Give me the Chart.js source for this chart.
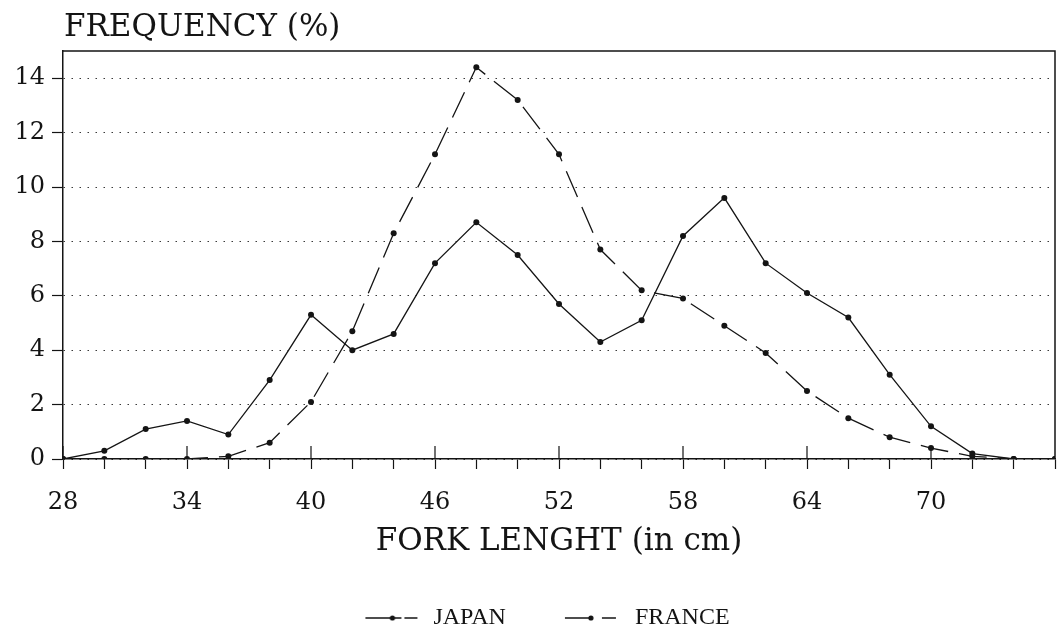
<!DOCTYPE html>
<html>
<head>
<meta charset="utf-8">
<script src="https://cdn.jsdelivr.net/npm/chart.js@4.4.1/dist/chart.umd.min.js"></script>
<style>
  html, body { margin: 0; padding: 0; background: #ffffff; }
  #wrap { width: 1059px; height: 632px; }
  canvas { display: block; }
</style>
</head>
<body>
<div id="wrap"><canvas id="chart" width="1059" height="632" style="width:1059px;height:632px"></canvas></div>
<script>
// Fork length classes (cm) and frequency (%) per fleet
const forkLength = [28, 30, 32, 34, 36, 38, 40, 42, 44, 46, 48, 50, 52, 54, 56, 58, 60, 62, 64, 66, 68, 70, 72, 74, 76];
const japan  = [0, 0.3, 1.1, 1.4, 0.9, 2.9, 5.3, 4.0, 4.6, 7.2, 8.7, 7.5, 5.7, 4.3, 5.1, 8.2, 9.6, 7.2, 6.1, 5.2, 3.1, 1.2, 0.2, 0, 0];
const france = [0, 0, 0, 0, 0.1, 0.6, 2.1, 4.7, 8.3, 11.2, 14.4, 13.2, 11.2, 7.7, 6.2, 5.9, 4.9, 3.9, 2.5, 1.5, 0.8, 0.4, 0.1, 0, 0];

const seriesNames = ['JAPAN', 'FRANCE'];
const yTickValues = [0, 2, 4, 6, 8, 10, 12, 14];
const labelledLengths = [28, 34, 40, 46, 52, 58, 64, 70];
const yAxisTitle = 'FREQUENCY (%)';
const xAxisTitle = 'FORK LENGHT (in cm)';

const INK = '#141414';
const SERIF = '"DejaVu Serif", "Liberation Serif", serif';
const KEY_W = 94;

// Legend keys: a short line with a marker, solid or broken
function legendKey(start, dashed) {
  const c = document.createElement('canvas');
  c.width = KEY_W; c.height = 12;
  const g = c.getContext('2d');
  const s = start;
  g.strokeStyle = INK; g.fillStyle = INK; g.lineWidth = 1.4;
  g.beginPath();
  if (dashed) {
    g.moveTo(s, 6); g.lineTo(s + 26, 6);
    g.moveTo(s + 37, 6); g.lineTo(s + 51, 6);
  } else {
    g.moveTo(s, 6); g.lineTo(s + 36, 6);
    g.moveTo(s + 39, 6); g.lineTo(s + 52, 6);
  }
  g.stroke();
  g.beginPath();
  g.arc(dashed ? s + 26 : s + 27, 6, 2.6, 0, Math.PI * 2);
  g.fill();
  return c;
}
const keyJapan = legendKey(38, false);
const keyFrance = legendKey(36, true);

// Frame on top/right, taller major ticks crossing the x axis, and the y title
const framePlugin = {
  id: 'frame',
  afterDraw(chart) {
    const { ctx, chartArea: a, scales } = chart;
    ctx.save();
    ctx.strokeStyle = INK;
    ctx.lineWidth = 1.5;
    ctx.beginPath();
    ctx.moveTo(a.left, a.top); ctx.lineTo(a.right, a.top); ctx.lineTo(a.right, a.bottom);
    ctx.stroke();
    ctx.lineWidth = 1.2;
    ctx.beginPath();
    labelledLengths.forEach(v => {
      const x = scales.x.getPixelForValue(v);
      ctx.moveTo(x, a.bottom - 13); ctx.lineTo(x, a.bottom);
    });
    ctx.stroke();
    ctx.fillStyle = INK;
    ctx.font = '31px ' + SERIF;
    ctx.textAlign = 'left';
    ctx.textBaseline = 'alphabetic';
    ctx.fillText(yAxisTitle, a.left + 1, 36);
    ctx.restore();
  }
};

new Chart(document.getElementById('chart'), {
  type: 'line',
  data: {
    datasets: [
      {
        label: seriesNames[0],
        data: forkLength.map((x, i) => ({ x, y: japan[i] })),
        borderColor: INK,
        backgroundColor: INK,
        borderWidth: 1.3,
        pointRadius: 3,
        pointBorderWidth: 0,
        pointBackgroundColor: INK,
        tension: 0,
        fill: false
      },
      {
        label: seriesNames[1],
        data: forkLength.map((x, i) => ({ x, y: france[i] })),
        borderColor: INK,
        backgroundColor: INK,
        borderWidth: 1.3,
        borderDash: [28, 11],
        pointRadius: 3,
        pointBorderWidth: 0,
        pointBackgroundColor: INK,
        tension: 0,
        fill: false
      }
    ]
  },
  options: {
    responsive: false,
    animation: false,
    devicePixelRatio: 1,
    layout: { padding: { top: 51, right: 2, bottom: -8, left: 0 } },
    plugins: {
      tooltip: { enabled: false },
      title: { display: false },
      legend: {
        display: true,
        position: 'bottom',
        labels: {
          usePointStyle: true,
          pointStyleWidth: KEY_W,
          padding: 23,
          color: INK,
          font: { family: '"Liberation Serif", serif', size: 24 },
          generateLabels() {
            return [
              { text: seriesNames[0], pointStyle: keyJapan, datasetIndex: 0, lineWidth: 0, fillStyle: INK, strokeStyle: INK, fontColor: INK },
              { text: seriesNames[1], pointStyle: keyFrance, datasetIndex: 1, lineWidth: 0, fillStyle: INK, strokeStyle: INK, fontColor: INK }
            ];
          }
        }
      }
    },
    scales: {
      x: {
        type: 'linear',
        min: 28,
        max: 76,
        afterFit(scale) {
          scale.height = 124;
          scale.paddingRight = 0;
          scale.paddingLeft = 0;
        },
        ticks: {
          stepSize: 2,
          autoSkip: false,
          maxRotation: 0,
          padding: 19,
          color: INK,
          font: { family: SERIF, size: 24 },
          callback: (v) => labelledLengths.includes(v) ? String(v) : ''
        },
        grid: {
          display: true,
          drawOnChartArea: false,
          drawTicks: true,
          tickLength: 10,
          tickColor: INK,
          tickWidth: 1.2
        },
        border: { display: true, color: INK, width: 1.5 },
        title: {
          display: true,
          text: xAxisTitle,
          color: INK,
          font: { family: SERIF, size: 31 },
          padding: { top: 0, bottom: 22 }
        }
      },
      y: {
        type: 'linear',
        min: 0,
        max: 15,
        afterFit(scale) { scale.width = 63; },
        afterBuildTicks(scale) { scale.ticks = yTickValues.map(v => ({ value: v })); },
        ticks: {
          padding: 7,
          color: INK,
          font: { family: SERIF, size: 24 }
        },
        grid: {
          display: true,
          drawOnChartArea: true,
          drawTicks: true,
          tickLength: 11,
          color: '#3a3a3a',
          lineWidth: 1,
          tickColor: INK,
          tickWidth: 1.2,
          tickBorderDash: []
        },
        border: { display: true, color: INK, width: 1.5, dash: [1.5, 6.5] }
      }
    }
  },
  plugins: [framePlugin]
});
</script>
</body>
</html>
